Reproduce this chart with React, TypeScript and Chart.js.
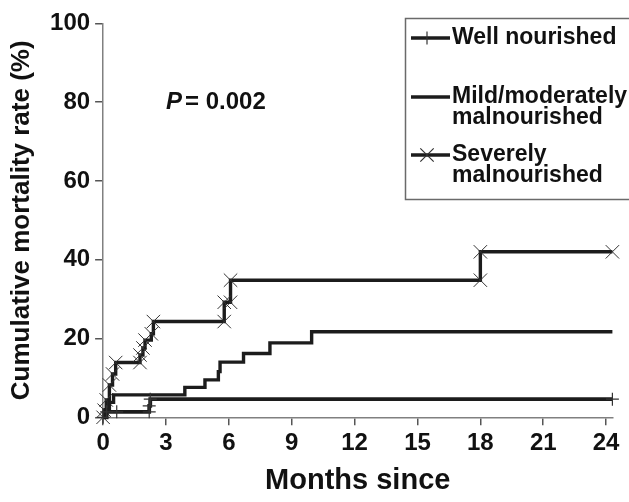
import React, { useEffect, useRef } from 'react';
import { Chart, registerables } from 'chart.js';

Chart.register(...registerables);

// ---- data ----
const xTicks = [0, 3, 6, 9, 12, 15, 18, 21, 24];
const yTicks = [0, 20, 40, 60, 80, 100];

const wellMonths = [0, 0.17, 0.65, 2.2, 2.2, 2.25, 24.3];
const wellRate = [0, 1.4, 1.4, 1.4, 2.9, 4.6, 4.6];

const mildMonths = [0, 0.1, 0.3, 0.5, 3.9, 4.86, 5.5, 5.58, 6.7, 7.96, 9.95, 24.3];
const mildRate = [0, 1.9, 3.8, 5.7, 7.6, 9.5, 11.6, 14.0, 16.2, 18.9, 21.7, 21.7];

const severeMonths = [0, 0.05, 0.15, 0.3, 0.45, 0.6, 1.76, 1.76, 1.9, 2.0, 2.3, 2.4, 5.78, 5.78, 6.08, 6.08, 18.0, 18.0, 24.3];
const severeRate = [0, 1.8, 4.4, 8.2, 11.0, 13.9, 13.9, 15.8, 17.6, 19.6, 21.2, 24.3, 24.3, 29.2, 29.2, 34.8, 34.8, 42.0, 42.0];

const legendLines = [['Well nourished'], ['Mild/moderately', 'malnourished'], ['Severely', 'malnourished']];
const pLabel = 'P';
const pValue = '= 0.002';
const pAnchor = { month: 3, rate: 80 };

const xTitle = 'Months since';
const yTitle = 'Cumulative mortality rate (%)';

const FONT = "'Liberation Sans', Arial, Helvetica, sans-serif";
const INK = '#1c1c1c';

const toPoints = (xs: number[], ys: number[]) => xs.map((x, i) => ({ x, y: ys[i] }));

const overlayPlugin = {
  id: 'overlay',
  afterDraw(chart: any) {
    const ctx = chart.ctx as CanvasRenderingContext2D;
    const xs = chart.scales.x;
    const ys = chart.scales.y;
    ctx.save();
    // P value annotation
    const px = xs.getPixelForValue(pAnchor.month);
    const py = ys.getPixelForValue(pAnchor.rate);
    ctx.fillStyle = '#111';
    ctx.textBaseline = 'middle';
    ctx.textAlign = 'left';
    ctx.font = `italic bold 24px ${FONT}`;
    ctx.fillText(pLabel, px, py);
    const pw = ctx.measureText(pLabel).width;
    ctx.font = `bold 24px ${FONT}`;
    ctx.fillText(pValue, px + pw + 3, py);

    // legend box
    ctx.strokeStyle = '#6a6a6a';
    ctx.lineWidth = 1.5;
    ctx.strokeRect(405.5, 18.5, 260, 181);

    const rows = [38, 97, 155];
    const lineGap = 21;
    ctx.font = `bold 23px ${FONT}`;
    legendLines.forEach((lines, i) => {
      const y = rows[i];
      ctx.strokeStyle = INK;
      ctx.lineWidth = 3.5;
      ctx.beginPath();
      ctx.moveTo(411, y);
      ctx.lineTo(450, y);
      ctx.stroke();
      ctx.lineWidth = 1.2;
      ctx.strokeStyle = '#333';
      if (i === 0) {
        ctx.beginPath();
        ctx.moveTo(427, y - 6.5);
        ctx.lineTo(427, y + 6.5);
        ctx.stroke();
      } else if (i === 2) {
        const r = 6.7;
        ctx.beginPath();
        ctx.moveTo(427 - r, y - r);
        ctx.lineTo(427 + r, y + r);
        ctx.moveTo(427 - r, y + r);
        ctx.lineTo(427 + r, y - r);
        ctx.stroke();
      }
      ctx.fillStyle = '#111';
      lines.forEach((t, j) => ctx.fillText(t, 452, y + j * lineGap));
    });
    ctx.restore();
  },
};

export default function App() {
  const ref = useRef<HTMLCanvasElement>(null);
  useEffect(() => {
    document.body.style.margin = '0';
    const tickFont = { family: FONT, size: 24, weight: 'bold' as const };
    const chart = new Chart(ref.current as HTMLCanvasElement, {
      type: 'line',
      data: {
        datasets: [
          {
            label: legendLines[0].join(' '),
            data: toPoints(wellMonths, wellRate),
            stepped: true,
            borderColor: INK,
            borderWidth: 3.8,
            pointStyle: 'cross',
            pointRadius: 6.5,
            pointBorderWidth: 1.2,
            pointBorderColor: '#333',
            fill: false,
            clip: false as any,
          },
          {
            label: legendLines[1].join(' '),
            data: toPoints(mildMonths, mildRate),
            stepped: true,
            borderColor: INK,
            borderWidth: 3.4,
            pointRadius: 0,
            fill: false,
            clip: false as any,
          },
          {
            label: legendLines[2].join(' '),
            data: toPoints(severeMonths, severeRate),
            stepped: true,
            borderColor: INK,
            borderWidth: 3.4,
            pointStyle: 'crossRot',
            pointRadius: 9.5,
            pointBorderWidth: 1,
            pointBorderColor: '#333',
            fill: false,
            clip: false as any,
          },
        ],
      },
      options: {
        responsive: false,
        animation: false,
        devicePixelRatio: 1,
        layout: { padding: { top: 23.3, right: 16.6, left: 0, bottom: 0 } },
        plugins: { legend: { display: false }, tooltip: { enabled: false } },
        scales: {
          x: {
            type: 'linear',
            min: 0,
            max: 24.3,
            afterBuildTicks: (s: any) => {
              s.ticks = xTicks.map((v) => ({ value: v }));
            },
            afterFit: (s: any) => {
              s.height = 84.7;
            },
            ticks: { font: tickFont, color: '#111', padding: 4, maxRotation: 0, autoSkip: false, callback: (v: any) => String(v) },
            grid: { drawOnChartArea: false, drawTicks: true, tickLength: 8, color: '#555', lineWidth: 1.5 },
            border: { display: true, color: '#808080', width: 1.5 },
            title: { display: true, text: xTitle, color: '#111', font: { family: FONT, size: 29, weight: 'bold', lineHeight: 0.9 }, padding: { top: 0, bottom: 8 } },
          },
          y: {
            type: 'linear',
            min: 0,
            max: 100,
            afterBuildTicks: (s: any) => {
              s.ticks = yTicks.map((v) => ({ value: v }));
            },
            afterFit: (s: any) => {
              s.width = 103.1;
            },
            ticks: { font: tickFont, color: '#111', padding: 5, autoSkip: false, callback: (v: any) => String(v) },
            grid: { drawOnChartArea: false, drawTicks: true, tickLength: 8, color: '#555', lineWidth: 1.5 },
            border: { display: true, color: '#808080', width: 1.5 },
            title: { display: true, text: yTitle, color: '#111', font: { family: FONT, size: 26, weight: 'bold', lineHeight: 1.2 }, padding: { top: 6, bottom: 0 } },
          },
        },
      },
      plugins: [overlayPlugin],
    });
    return () => chart.destroy();
  }, []);
  return <canvas ref={ref} width={629} height={502} style={{ display: 'block' }} />;
}
